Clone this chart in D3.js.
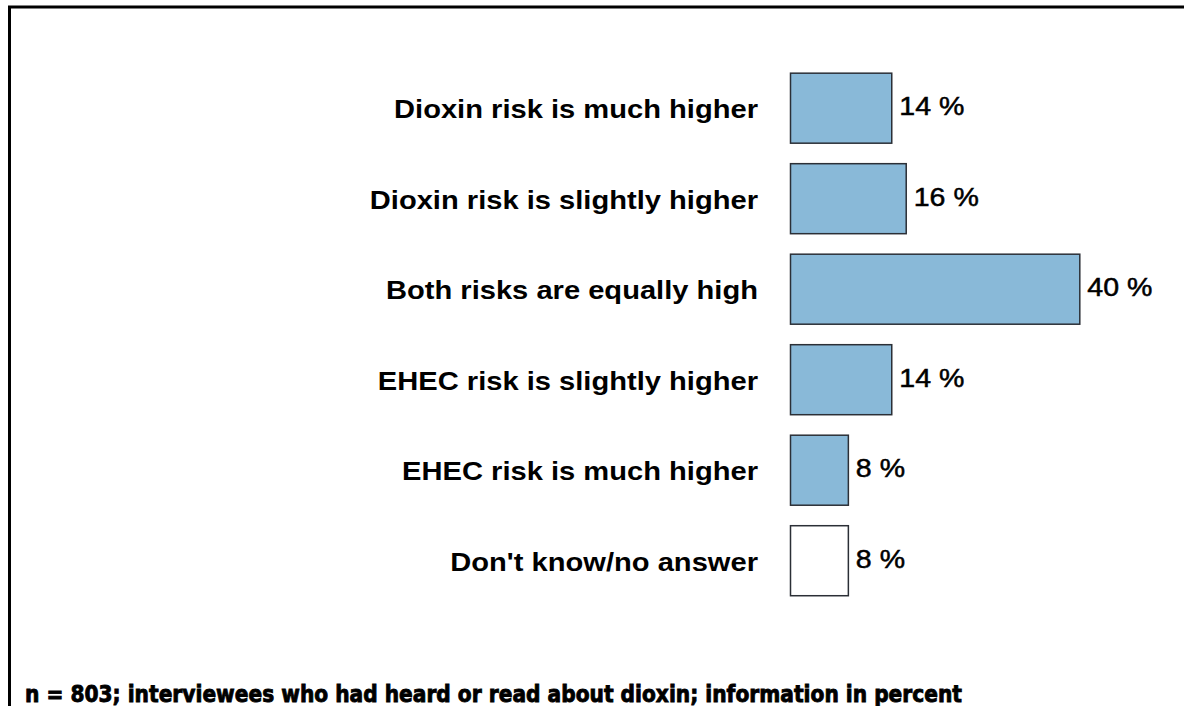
<!DOCTYPE html>
<html><head><meta charset="utf-8">
<script src="https://cdn.jsdelivr.net/npm/d3@7"></script>
<style>html,body{margin:0;padding:0;background:#fff;overflow:hidden}</style>
</head><body>
<svg id="chart" width="1184" height="706"></svg>
<script>
const categories = ["Dioxin risk is much higher","Dioxin risk is slightly higher","Both risks are equally high","EHEC risk is slightly higher","EHEC risk is much higher","Don't know/no answer"];
const values = [14,16,40,14,8,8];
const isAnswer = [true,true,true,true,true,false];
const footnote = "n = 803; interviewees who had heard or read about dioxin; information in percent";

const svg = d3.select("#chart");
svg.append("rect").attr("width",1184).attr("height",706).attr("fill","#fff");
// frame (top and left edges visible)
svg.append("path").attr("d","M9.5,1000 L9.5,7 L1200,7").attr("fill","none").attr("stroke","#000").attr("stroke-width",3);

const x = d3.scaleLinear().domain([0,40]).range([790,1079.3]);
const y = d3.scaleBand().domain(categories).range([62.45,605.45]).paddingInner(0.2265).paddingOuter(0.113);

const rows = categories.map((c,i)=>({c, v:values[i], a:isAnswer[i]}));
const g = svg.append("g");
g.selectAll("rect.bar").data(rows).join("rect").attr("class","bar")
  .attr("x",x(0)+0.5).attr("y",d=>y(d.c)+0.5)
  .attr("width",d=>x(d.v)-x(0)).attr("height",y.bandwidth())
  .attr("fill",d=>d.a?"#89b9d8":"#fff").attr("stroke","#2b2f36").attr("stroke-width",1.5);

const labG = svg.append("g").attr("transform","translate(758,0) scale(1.12,1)");
labG.selectAll("text.cat").data(rows).join("text").attr("class","cat")
  .attr("x",0).attr("y",d=>y(d.c)+y.bandwidth()/2+1.5)
  .attr("dy","0.35em").attr("text-anchor","end")
  .attr("font-family","Liberation Sans, Arial, sans-serif").attr("font-weight","bold")
  .attr("font-size",26).attr("fill","#000").text(d=>d.c);

g.selectAll("text.val").data(rows).join("text").attr("class","val")
  .attr("transform",d=>`translate(${x(d.v)+8},${y(d.c)+y.bandwidth()/2-1.5}) scale(1.12,1)`)
  .attr("dy","0.35em").attr("text-anchor","start")
  .attr("font-family","Liberation Sans, Arial, sans-serif")
  .attr("font-size",25.5).attr("fill","#000").attr("stroke","#000").attr("stroke-width",0.5).text(d=>d.v+" %");

svg.append("text").attr("x",25).attr("y",702)
  .attr("font-family","DejaVu Sans, Liberation Sans, sans-serif").attr("font-weight","bold")
  .attr("font-size",23).attr("textLength",937).attr("lengthAdjust","spacingAndGlyphs")
  .attr("fill","#000").attr("stroke","#000").attr("stroke-width",0.9)
  .text(footnote);
</script>
</body></html>
